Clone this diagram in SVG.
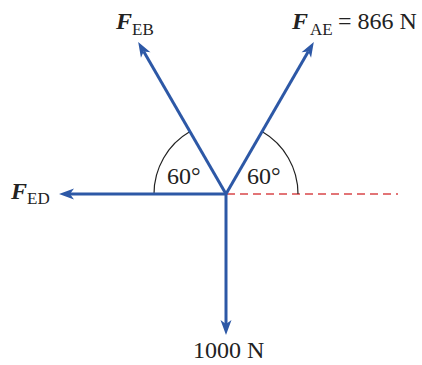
<svg xmlns="http://www.w3.org/2000/svg" width="422" height="365" viewBox="0 0 422 365">
<style>
.force{stroke:#2d58a6;stroke-width:3;fill:none;marker-end:url(#ah)}
.arc{stroke:#222;stroke-width:1.2;fill:none}
.ref{stroke:#d9474a;stroke-width:1.5;stroke-dasharray:8 5;fill:none}
text{font-family:"Liberation Serif","Times New Roman",serif;fill:#222}
.lbl{font-size:24px}
.F{font-weight:bold;font-style:italic;font-size:24px}
.sub{font-size:17px}
</style>
<defs>
<marker id="ah" viewBox="-16 -7 17 14" refX="-11" refY="0" markerWidth="17" markerHeight="14" markerUnits="userSpaceOnUse" orient="auto">
<path d="M0,0 L-15,-5.5 L-11,0 L-15,5.5 Z" fill="#2d58a6"/>
</marker>
</defs>
<rect width="422" height="365" fill="#fff"/>
<g id="reference-line">
<line class="ref" x1="227" y1="194" x2="398" y2="194"/>
</g>
<g id="angles">
<path class="arc" d="M154,194 A72,72 0 0 1 190,131.6"/>
<path class="arc" d="M298,194 A72,72 0 0 0 262,131.6"/>
<text class="lbl" x="167" y="184">60°</text>
<text class="lbl" x="247" y="184">60°</text>
</g>
<g id="connectors">
<line class="force" x1="226" y1="194" x2="70" y2="194"/>
<line class="force" x1="226" y1="194" x2="226" y2="324"/>
<line class="force" x1="226" y1="194" x2="143.7" y2="51.5"/>
<line class="force" x1="226" y1="194" x2="308.3" y2="51.5"/>
</g>
<g id="F_EB">
<text x="116" y="29"><tspan class="F">F</tspan><tspan class="sub" x="132" y="35">EB</tspan></text>
</g>
<g id="F_AE">
<text x="292" y="29"><tspan class="F">F</tspan><tspan class="sub" x="310" y="35">AE</tspan><tspan class="lbl" x="338" y="29">= 866 N</tspan></text>
</g>
<g id="F_ED">
<text x="11" y="199"><tspan class="F">F</tspan><tspan class="sub" x="27" y="204">ED</tspan></text>
</g>
<g id="load">
<text class="lbl" x="193" y="358">1000 N</text>
</g>
</svg>
